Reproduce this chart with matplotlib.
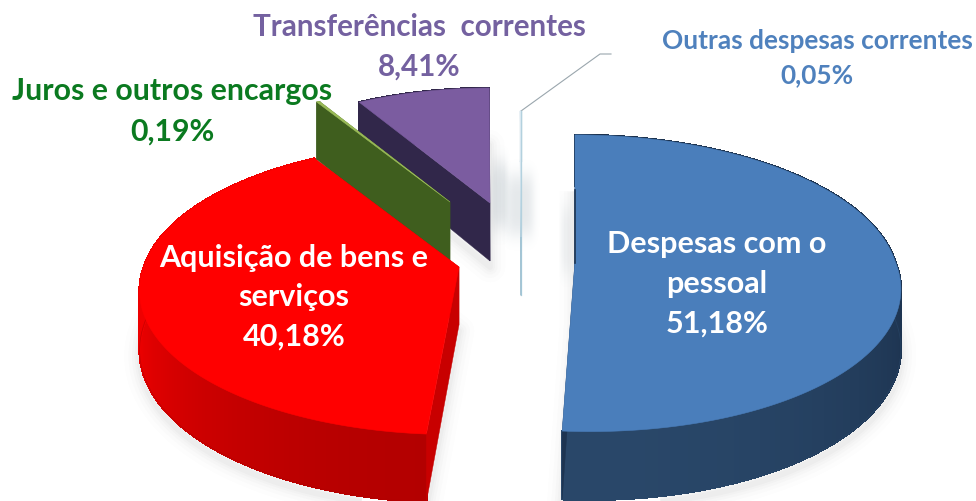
#!/usr/bin/env python3
"""Exploded 3D-style pie chart of current expenses, drawn in pixel coordinates."""

import numpy as np
import matplotlib
matplotlib.use("Agg")
import matplotlib.pyplot as plt
from matplotlib.collections import PolyCollection
from matplotlib.colors import to_rgb

# ── Data ─────────────────────────────────────────────────────────────────────
NAMES  = ["Despesas com o\npessoal", "Aquisição de bens e\nserviços", "Juros e outros encargos",
          "Transferências  correntes", "Outras despesas correntes"]
VALUES = [51.18, 40.18, 0.19, 8.41, 0.05]
VALUE_LABELS = ["51,18%", "40,18%", "0,19%", "8,41%", "0,05%"]

# ── Layout / style ───────────────────────────────────────────────────────────
W, H = 976, 501
RX, RY = 320, 145      # pie radii before perspective
PERSP  = 0.15          # how much the far side shrinks
VIEW_X = 490           # front of the pie spreads away from this x

APEX   = [(575, 261), (459, 267), (450, 202), (490, 203), (521, 237)]
SCALE  = [1.0, 0.985, 0.9, 0.9, 1.0]
DEPTH  = [58, 58, 64, 58, 58]
TOPS   = ["#4a7ebb", "#ff0000", "#9bbb59", "#7b5ca0", "#dbe9f2"]
WALL_A = ["#1c324e", "#f00000", "#3f5e1e", "#31274a", "#b9d3e0"]   # back of the rim
WALL_B = ["#294769", "#b30000", "#3f5e1e", "#31274a", "#b9d3e0"]   # front of the rim
CUTS   = ["#1d3451", "#c80000", "#3f5e1e", "#31274a", "#9fc4d6"]
DRAW_ORDER = [4, 3, 2, 1, 0]
GLOWS  = [(499, 195, 7, 50, 0.22), (520, 205, 12, 46, 0.2), (566, 240, 5, 50, 0.1)]


def project(apex, scale, ang, lift=0.0):
    """ang is clockwise from 12 o'clock, radians. lift moves down to the pie base."""
    z = scale * np.cos(ang)
    p = 1.0 / (1.0 + PERSP * z)
    x = apex[0] + RX * scale * np.sin(ang) * p
    x = x + (apex[0] - VIEW_X) * (p - 1.0) * (z < 0)
    y = apex[1] - RY * z * p + lift * p
    return x, y


def soft_shadow(ax, xs, ys, dy=6, zorder=1):
    for lw, a in zip([22, 16, 11, 7, 4], [0.012, 0.016, 0.02, 0.025, 0.03]):
        ax.fill(xs, np.asarray(ys) + dy, facecolor="none", edgecolor="#555555",
                lw=lw, alpha=a, zorder=zorder, joinstyle="round")


def glow(ax, cx, cy, sx, sy, strength):
    gx, gy = np.meshgrid(np.linspace(-2.5, 2.5, 60), np.linspace(-2.5, 2.5, 60))
    img = np.zeros((60, 60, 4))
    img[..., :3] = to_rgb("#7d909c")
    img[..., 3] = strength * np.exp(-(gx ** 4 + gy ** 4) / 2)
    ax.imshow(img, extent=[cx - 2.5 * sx, cx + 2.5 * sx, cy + 2.5 * sy * 0.6, cy - 2.5 * sy * 0.6],
              aspect="auto", zorder=0.5, interpolation="bilinear")


def draw_slice(ax, i, a0, a1, zorder):
    apex, scale, depth = APEX[i], SCALE[i], DEPTH[i]
    angs = np.linspace(a0, a1, max(int((a1 - a0) * 60), 2))
    xt, yt = project(apex, scale, angs)
    xb, yb = project(apex, scale, angs, depth)
    base = (apex[0], apex[1] + depth)

    # silhouette shadow
    if VALUES[i] > 1:
        soft_shadow(ax, np.r_[xb, base[0]], np.r_[yb, base[1]], zorder=zorder)

    # outer rim, colour moves with the angle
    c0, c1 = np.array(to_rgb(WALL_A[i])), np.array(to_rgb(WALL_B[i]))
    quads, cols = [], []
    for k in range(len(angs) - 1):
        quads.append([(xt[k], yt[k]), (xt[k + 1], yt[k + 1]), (xb[k + 1], yb[k + 1]), (xb[k], yb[k])])
        t = np.clip(-np.cos(angs[k]), 0, 1) ** 1.5
        cols.append(c0 + (c1 - c0) * t)
    ax.add_collection(PolyCollection(quads, facecolors=cols, edgecolors=cols, lw=1.0,
                                     antialiaseds=False, zorder=zorder + 0.1))
    ax.plot(xb, yb, color=WALL_B[i], lw=0.6, alpha=0.6, zorder=zorder + 0.1)

    # cut faces
    for x_o, y_o, x_b, y_b in [(xt[0], yt[0], xb[0], yb[0]), (xt[-1], yt[-1], xb[-1], yb[-1])]:
        ax.fill([apex[0], x_o, x_b, base[0]], [apex[1], y_o, y_b, base[1]],
                color=CUTS[i], lw=0.3, zorder=zorder + 0.2)

    # top face
    ax.fill(np.r_[apex[0], xt], np.r_[apex[1], yt], color=TOPS[i], lw=0.4, zorder=zorder + 0.3)


# ── Plot ─────────────────────────────────────────────────────────────────────
plt.rcParams["font.family"] = ["Lato", "DejaVu Sans"]
fig = plt.figure(figsize=(W / 100, H / 100), dpi=100)
ax = fig.add_axes([0, 0, 1, 1])
ax.axis("off")

fracs = np.array(VALUES) / sum(VALUES)
edges = np.r_[0, np.cumsum(fracs)] * 2 * np.pi

# faint glows beside the detached slices
for g in GLOWS:
    glow(ax, *g)

for n, i in enumerate(DRAW_ORDER):
    draw_slice(ax, i, edges[i], edges[i + 1], zorder=2 + n)

# leader line for the smallest slice
ax.plot([521, 521, 600, 611], [295, 111, 54, 54], color="#9aa6ad", lw=0.8, zorder=2)
ax.plot([521, 521], [111, 295], color="#a9cbd8", lw=0.9, zorder=2.1)

# blue slice: dark cut seen along its straight edge
ax.plot([575, 575], [190, 263], color="#1d3451", lw=1.2, zorder=7)

ax.set_xlim(0, W)
ax.set_ylim(H, 0)

WHITE = "#ffffff"
ax.text(717, 284, NAMES[0] + "\n" + VALUE_LABELS[0], color=WHITE, fontsize=22, fontweight="bold",
        ha="center", va="center", linespacing=1.5, zorder=20)
ax.text(294, 297, NAMES[1] + "\n" + VALUE_LABELS[1], color=WHITE, fontsize=22, fontweight="bold",
        ha="center", va="center", linespacing=1.5, zorder=20)
ax.text(172, 111, NAMES[2] + "\n" + VALUE_LABELS[2], color="#0b7a20", fontsize=21.8, fontweight="bold",
        ha="center", va="center", linespacing=1.56, zorder=20)
ax.text(419, 47, NAMES[3] + "\n" + VALUE_LABELS[3], color="#7461a0", fontsize=21.3, fontweight="bold",
        ha="center", va="center", linespacing=1.48, zorder=20)
ax.text(817, 58, NAMES[4] + "\n" + VALUE_LABELS[4], color="#4f81bd", fontsize=18.9, fontweight="bold",
        ha="center", va="center", linespacing=1.54, zorder=20)

plt.savefig("out.png", dpi=100)
